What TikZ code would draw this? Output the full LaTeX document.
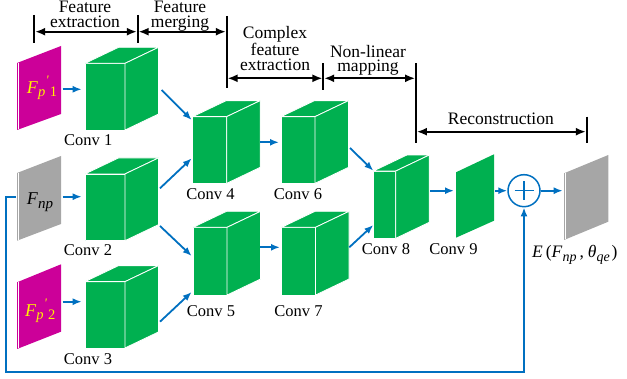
\documentclass[tikz,border=0pt]{standalone}
\usepackage{fontspec}
\setmainfont{Liberation Serif}
\usetikzlibrary{arrows.meta,calc}
\definecolor{cgreen}{RGB}{0,176,80}
\definecolor{cmag}{RGB}{204,0,153}
\definecolor{cgray}{RGB}{166,166,166}
\definecolor{cblue}{RGB}{0,112,192}
\newcommand\mycube[5]{%
  \node[face, inner sep=0pt, outer sep=0pt, minimum width=#4pt, minimum height=#5pt] (#1) at (#2,#3) {};
  \path[face] (#1.north west) -- ++(33.5,-16) -- ($(#1.north east)+(33.5,-16)$) -- (#1.north east) -- cycle;
  \path[face] (#1.north east) -- ++(33.5,-16) -- ($(#1.south east)+(33.5,-16)$) -- (#1.south east) -- cycle;
}
% name, colour, xl, xr, ylt, ylb, yrt, yrb, strip
\newcommand\mypanel[9]{%
  \path[fill=#2] (#3,#5) -- (#4,#7) -- (#4,#8) -- (#3,#6) -- cycle;
  \ifnum#9=1 \draw[white, line width=0.7pt] (#3+1.4,#5) -- (#3+1.4,#6-0.8);\fi
  \coordinate (#1) at ($(#3,#5)!0.5!(#4,#8)$);
}
\begin{document}
\begin{tikzpicture}[x=1pt,y=-1pt,
  face/.style={fill=cgreen, draw=white, line width=0.8pt, line join=round},
  flow/.style={draw=cblue, line width=1.8pt, -{Latex[length=9pt,width=7pt]}},
  span/.style={draw=black, line width=1.8pt, {Latex[length=10pt,width=8pt]}-{Latex[length=10pt,width=8pt]}, shorten <=0.9pt, shorten >=0.9pt},
  tickline/.style={draw=black, line width=1.8pt},
  hdr/.style={font=\fontsize{17.5}{14.5}\selectfont, align=center, inner sep=0pt, anchor=base},
  lab/.style={font=\fontsize{16.5}{16.5}\selectfont, inner sep=0pt, anchor=base},
  sym/.style={font=\fontsize{18}{18}\selectfont, inner sep=0pt, anchor=base west}
]
\useasboundingbox (0,0) rectangle (627,379);

% ---- input / output panels
\mypanel{p1}{cmag}{17}{61}{63}{130}{46}{114}{1}
\mypanel{p2}{cgray}{17}{61}{173}{240.7}{156}{224}{1}
\mypanel{p3}{cmag}{17}{61}{282.3}{349}{264.3}{331.7}{1}
\mypanel{p9}{cgreen}{456}{494}{172.3}{237.7}{154.3}{220.7}{0}
\mypanel{pout}{cgray}{564}{608.3}{173.3}{240}{155}{221.7}{1}

% ---- cubes
\mycube{c1}{105}{96.7}{40}{66.7}
\mycube{c2}{105}{207.3}{40}{66.7}
\mycube{c3}{105}{314.8}{40}{66.3}
\mycube{c4}{209.7}{150}{34}{66.7}
\mycube{c6}{298}{150}{34}{66.7}
\mycube{c5}{210}{261.2}{34}{67.7}
\mycube{c7}{298.5}{261.2}{34}{67.7}
\mycube{c8}{384.5}{204.7}{22.4}{67.3}

% ---- sum node
\node[circle, draw=cblue, line width=1.5pt, fill=white, minimum size=32pt, inner sep=0pt] (sum) at (524,190.7) {};
\draw[cblue, line width=1.5pt] ($(sum.center)+(-9.5,0)$) -- ($(sum.center)+(9.5,0)$);
\draw[cblue, line width=1.5pt] ($(sum.center)+(0,-9.5)$) -- ($(sum.center)+(0,9.5)$);

% ---- panel symbols
\node[sym, text=yellow] (l1) at (26.7,94) {\textit{F}\raisebox{-2.7pt}{\fontsize{14.5}{14.5}\selectfont\textit{p}\hspace{0.5pt}\raisebox{12pt}{\fontsize{13}{13}\selectfont\textit{\textquotesingle}}\hspace{1pt}1}};
\node[sym] (l2) at (26.7,205) {\textit{F}\raisebox{-3.3pt}{\fontsize{15}{15}\selectfont\textit{np}}};
\node[sym, text=yellow] (l3) at (25,316.7) {\textit{F}\raisebox{-2.7pt}{\fontsize{14.5}{14.5}\selectfont\textit{p}\hspace{0.5pt}\raisebox{12pt}{\fontsize{13}{13}\selectfont\textit{\textquotesingle}}\hspace{1pt}2}};
\node[sym, font=\fontsize{17.5}{17.5}\selectfont] (lout) at (532,258) {\textit{E}\hspace{3pt}(\textit{F}\raisebox{-3.3pt}{\fontsize{14}{14}\selectfont\textit{np}}\hspace{3pt},\hspace{4pt}\textit{θ}\raisebox{-3.3pt}{\fontsize{14}{14}\selectfont\textit{qe}}\hspace{2pt})};

% ---- conv labels
\node[lab] (n1) at (88.3,146) {Conv 1};
\node[lab] (n2) at (88,256) {Conv 2};
\node[lab] (n3) at (88,365) {Conv 3};
\node[lab] (n4) at (210.5,199.5) {Conv 4};
\node[lab] (n6) at (298,199.5) {Conv 6};
\node[lab] (n5) at (211,316.7) {Conv 5};
\node[lab] (n7) at (298.5,316.7) {Conv 7};
\node[lab] (n8) at (386,255) {Conv 8};
\node[lab] (n9) at (453.5,255) {Conv 9};

% ---- data-flow arrows
\coordinate (a1) at (62.7,89.3);
\coordinate (a2) at (62.7,196.7);
\coordinate (a3) at (62.7,301.7);
\draw[flow, shorten >=3.3pt] (a1) -- (a1 -| c1.west);
\draw[flow, shorten >=3.3pt] (a2) -- (a2 -| c2.west);
\draw[flow, shorten >=3.3pt] (a3) -- (a3 -| c3.west);
\draw[flow] ($(c1.east)+(36.7,-6.7)$) -- ($(c4.west)+(-1,-30)$);
\draw[flow] ($(c2.east)+(35,-19)$) -- ($(c4.west)+(-1,8.3)$);
\draw[flow] ($(c2.east)+(35,18.7)$) -- ($(c5.west)+(-1.3,-5.2)$);
\draw[flow] ($(c3.east)+(35,6.9)$) -- ($(c5.west)+(-1.3,30.8)$);
\draw[flow] ($(c4.east)+(33.3,-7.7)$) -- ($(c6.west)+(-2,-7.7)$);
\draw[flow] ($(c5.east)+(33,-13.9)$) -- ($(c7.west)+(-1.5,-13.9)$);
\draw[flow] ($(c6.east)+(35,-2)$) -- ($(c8.west)+(0,-34)$);
\draw[flow] ($(c7.east)+(33.8,-13.9)$) -- ($(c8.west)+(0,20.3)$);
\coordinate (b8) at ($(c8.east)+(34.3,-14)$);
\coordinate (b9l) at (456,190.7);
\coordinate (b9r) at (495,190.7);
\coordinate (bo) at (564,190.7);
\draw[flow, shorten >=2pt] (b8) -- (b9l);
\draw[flow] (b9r) -- (sum.west);
\draw[flow, shorten >=1.3pt] (sum.east) -- (bo);
\coordinate (fbs) at (15.5,196.7);
\coordinate (fbc) at (6,372.3);
\draw[flow] (fbs) -| (fbc) -| (sum.south);

% ---- stage brackets
\coordinate (t1a) at (34.3,15);   \coordinate (t1b) at (34.3,43.3);
\coordinate (t2a) at (137.7,15);  \coordinate (t2b) at (137.7,43.3);
\coordinate (t3a) at (226.7,16);  \coordinate (t3b) at (226.7,88);
\coordinate (t4a) at (323.3,63.3);\coordinate (t4b) at (323.3,90);
\coordinate (t5a) at (416,63.3);  \coordinate (t5b) at (416,143.3);
\coordinate (t6a) at (586.7,116.7);\coordinate (t6b) at (586.7,143.3);
\foreach \t in {1,...,6} \draw[tickline] (t\t a) -- (t\t b);
\coordinate (s1) at (34.3,31.7);  \coordinate (s2) at (137.7,31.7); \coordinate (s3) at (226.7,31.7);
\coordinate (s4) at (226.7,78.3); \coordinate (s5) at (323.3,78.3); \coordinate (s6) at (416,78.3);
\coordinate (s7) at (416,131.7);  \coordinate (s8) at (586.7,131.7);
\draw[span] (s1) -- (s2);
\draw[span] (s2) -- (s3);
\draw[span] (s4) -- (s5);
\draw[span] (s5) -- (s6);
\draw[span] (s7) -- (s8);

% base anchor of a multi-line node = baseline of its last line
\node[hdr] (h1) at (85,27.3) {Feature\\extraction};
\node[hdr] (h2) at (180,27.3) {Feature\\merging};
\node[hdr] (h3) at (275,70.5) {Complex\\feature\\extraction};
\node[hdr] (h4) at (368,71.8) {Non-linear\\mapping};
\node[hdr] (h5) at (500.8,125) {Reconstruction};
\end{tikzpicture}
\end{document}
